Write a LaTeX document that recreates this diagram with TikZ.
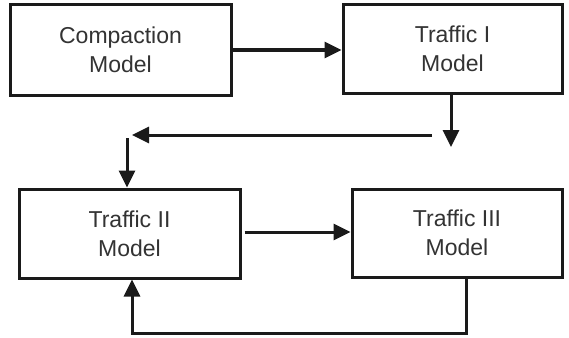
\documentclass[tikz,border=0pt]{standalone}
\usepackage{fontspec}
\setmainfont{Liberation Sans}
\usetikzlibrary{arrows.meta}
\definecolor{ink}{HTML}{1A1A1A}
\definecolor{txt}{HTML}{333333}
\tikzset{
  model/.style={draw=ink, line width=3pt, fill=white, inner sep=0pt,
    align=center, text=txt, font=\fontsize{23}{29}\selectfont},
  flow/.style={draw=ink, line width=3pt,
    -{Triangle[length=17pt,width=16pt]}},
}
\begin{document}
\begin{tikzpicture}[x=1pt,y=-1pt]
  \useasboundingbox (0,0) rectangle (569,337);

  % model boxes
  \node[model, minimum width=221pt, minimum height=90pt] (comp) at (120.5,50) {Compaction\\Model};
  \node[model, minimum width=219pt, minimum height=88pt] (t1) at (452.5,49) {Traffic I\\Model};
  \node[model, minimum width=221pt, minimum height=89pt] (t2) at (129.5,233.5) {Traffic II\\Model};
  \node[model, minimum width=210pt, minimum height=88pt] (t3) at (457,233) {Traffic III\\Model};

  % free ends of the connectors
  \coordinate (d1) at (451,147);
  \coordinate (hs) at (432,135);
  \coordinate (he) at (132,135);
  \coordinate (v1) at (127,138);
  \coordinate (lp) at (466,333);
  \coordinate (lq) at (132,333);

  % connectors
  \draw[flow] (comp.east |- 0,50) -- (t1.west |- 0,50);
  \draw[flow] (t1.south -| d1) -- (d1);
  \draw[flow] (hs) -- (he);
  \draw[flow] (v1) -- (v1 |- t2.north);
  \draw[flow, shorten <=3pt] (t2.east |- 0,232) -- (t3.west |- 0,232);
  \draw[flow] (t3.south -| lp) -- (lp) -- (lq) -- (lq |- t2.south);
\end{tikzpicture}
\end{document}
